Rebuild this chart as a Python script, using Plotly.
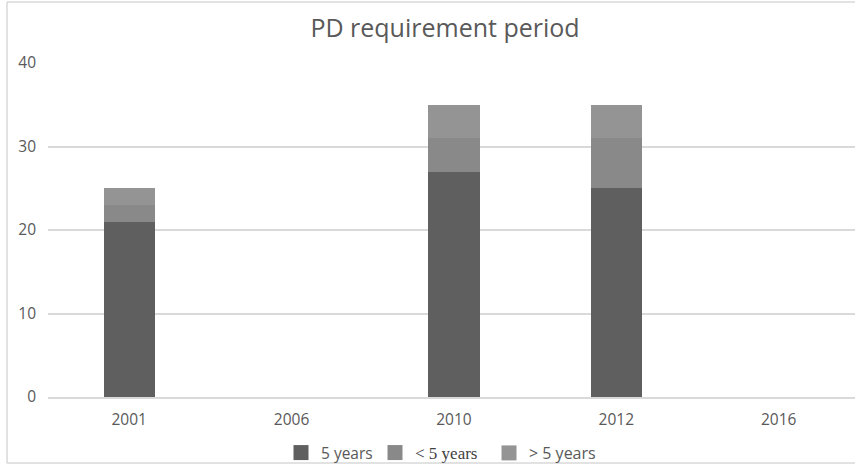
import plotly.graph_objects as go

years = ["2001", "2006", "2010", "2012", "2016"]
five_years = [21, None, 27, 25, None]
less_five = [2, None, 4, 6, None]
more_five = [2, None, 4, 4, None]

series_names = ["5 years", "< 5 years", "> 5 years"]
colors = ["#5f5f5f", "#898989", "#949494"]
legend_ids = ["legend", "legend2", "legend3"]

fig = go.Figure()
for name, vals, col in zip(series_names, [five_years, less_five, more_five], colors):
    fig.add_trace(go.Bar(x=years, y=vals, name=name, width=0.315, showlegend=False,
                         marker=dict(color=col, line=dict(width=0))))
# legend entries (square swatches)
for name, col, lid in zip(series_names, colors, legend_ids):
    fig.add_trace(go.Scatter(x=[None], y=[None], mode="markers", name=name, legend=lid,
                             marker=dict(symbol="square", size=15, color=col)))

PLOT_L, PLOT_W, PLOT_B, PLOT_H = 48, 807, 397, 334


def px_x(px):
    return (px - PLOT_L) / PLOT_W


def px_y(py):
    return (PLOT_B - py) / PLOT_H


leg_y = px_y(453)
common_leg = dict(orientation="h", yanchor="middle", y=leg_y, xanchor="left",
                  bgcolor="rgba(0,0,0,0)", itemwidth=30)

fig.update_layout(
    width=855, height=465,
    barmode="stack",
    margin=dict(l=48, r=0, t=63, b=68, autoexpand=False),
    paper_bgcolor="white", plot_bgcolor="white",
    font=dict(family="'Open Sans', sans-serif", color="#595959", size=15),
    title=dict(text="PD requirement period", x=px_x(445), xref="paper", xanchor="center",
               y=1 - 28 / 465, yref="container", yanchor="middle",
               font=dict(size=25, color="#595959")),
    xaxis=dict(type="category", range=[-0.5, 4.47], showgrid=False, automargin=False,
               showline=True, linecolor="#d9d9d9", linewidth=1.5, ticks="",
               ticklabelstandoff=8, tickfont=dict(size=15.5, color="#595959")),
    yaxis=dict(range=[0, 40], dtick=10, showgrid=True, gridcolor="#d9d9d9", gridwidth=1.5,
               automargin=False, zeroline=False, showline=False, ticks="",
               ticklabelstandoff=11, tickfont=dict(size=15.5, color="#595959")),
    legend=dict(common_leg, x=px_x(281),
                font=dict(family="'Open Sans', sans-serif", size=15.5, color="#595959")),
    legend2=dict(common_leg, x=px_x(375),
                 font=dict(family="'Liberation Serif', serif", size=17, color="#404040")),
    legend3=dict(common_leg, x=px_x(489),
                 font=dict(family="'Open Sans', sans-serif", size=16, color="#595959")),
)

# outer chart frame (left, top and bottom edges; right edge is cropped off)
frame = dict(color="#d9d9d9", width=1.5)
fig.add_shape(type="line", xref="paper", yref="paper", x0=px_x(7), x1=px_x(7),
              y0=px_y(463), y1=px_y(2), line=frame, layer="below")
fig.add_shape(type="line", xref="paper", yref="paper", x0=px_x(7), x1=1.2,
              y0=px_y(2), y1=px_y(2), line=frame, layer="below")
fig.add_shape(type="line", xref="paper", yref="paper", x0=px_x(7), x1=1.2,
              y0=px_y(463), y1=px_y(463), line=frame, layer="below")

fig.write_html("out.html", config={"displayModeBar": False},
               post_script="document.body.style.margin='0';document.body.style.overflow='hidden';")
